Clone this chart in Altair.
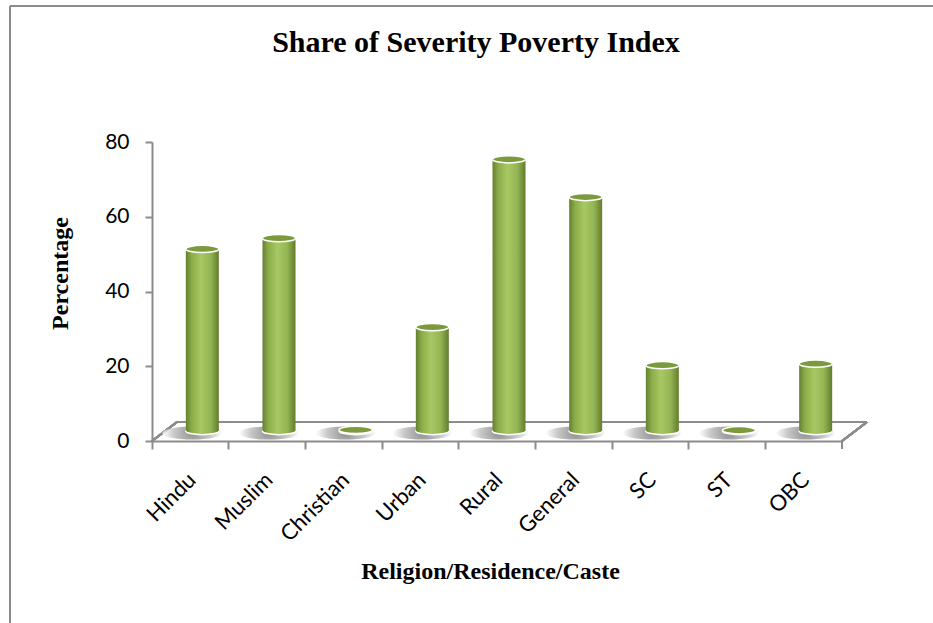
import altair as alt
import pandas as pd

title_text = "Share of Severity Poverty Index"
categories = ["Hindu", "Muslim", "Christian", "Urban", "Rural", "General", "SC", "ST", "OBC"]
values = [48.7, 51.6, 0.3, 27.8, 72.7, 62.6, 17.6, 0.2, 18.0]
y_ticks = [0, 20, 40, 60, 80]

df = pd.DataFrame({"category": categories, "value": values})
title_df = pd.DataFrame({"t": [title_text]})

W, H = 690, 299
PAD_L, PAD_T = 152, 142
DEPTH_X, DEPTH_Y = 25, 19
BASE = -10      # bars stand in the middle of the 3-D floor
SHIFT = 12
GREY = "#8C8C8C"
SERIF = "Liberation Serif"
SANS = "Lato"

ELLIPSE = "M -1 0 A 1 0.22 0 1 0 1 0 A 1 0.22 0 1 0 -1 0 Z"

side = alt.Gradient(
    gradient="linear", x1=0, x2=1, y1=0, y2=0,
    stops=[
        alt.GradientStop(offset=0, color="#66802F"),
        alt.GradientStop(offset=0.18, color="#8BAD4A"),
        alt.GradientStop(offset=0.45, color="#A7C862"),
        alt.GradientStop(offset=0.75, color="#94B553"),
        alt.GradientStop(offset=1, color="#637C2E"),
    ],
)
shadow_fill = alt.Gradient(
    gradient="radial",
    stops=[
        alt.GradientStop(offset=0, color="#6E6E6E"),
        alt.GradientStop(offset=0.6, color="#B5B5B5"),
        alt.GradientStop(offset=1, color="#FFFFFF"),
    ],
)

x_enc = alt.X(
    "category:N", sort=categories,
    scale=alt.Scale(paddingInner=0, paddingOuter=0),
    axis=alt.Axis(
        title="Religion/Residence/Caste", bandPosition=0, labelOffset=2,
        labelAngle=-45, labelAlign="right", labelBaseline="middle",
        labelFont=SANS, labelFontSize=22, labelColor="black", labelPadding=27,
        tickColor=GREY, tickWidth=2, tickSize=8,
        domainColor=GREY, domainWidth=2,
        titleFont=SERIF, titleFontSize=24, titleFontWeight="bold", titleColor="black",
        titleX=490 - PAD_L, titleY=137, titleAlign="center", titleBaseline="alphabetic",
    ),
)
y_enc = alt.Y(
    "value:Q",
    scale=alt.Scale(domain=[0, 80]),
    axis=alt.Axis(
        title="Percentage", values=y_ticks, grid=False,
        labelFont=SANS, labelFontSize=21, labelColor="black", labelPadding=16,
        tickColor=GREY, tickWidth=2, tickSize=7,
        domainColor=GREY, domainWidth=2,
        titleFont=SERIF, titleFontSize=24, titleFontWeight="bold", titleColor="black",
        titleX=-92, titleY=273 - PAD_T, titleAngle=-90, titleAlign="center", titleBaseline="middle",
    ),
)

base = alt.Chart(df)

# chart title
title = alt.Chart(title_df).mark_text(
    font=SERIF, fontSize=30, fontWeight="bold", color="black",
    align="center", baseline="alphabetic",
).encode(text="t:N", x=alt.value(476 - PAD_L), y=alt.value(52 - PAD_T))

# chart frame
frame = alt.Chart(df).mark_rule(color=GREY, strokeWidth=2).encode(
    x=alt.value(10 - PAD_L), x2=alt.value(10 - PAD_L),
    y=alt.value(6 - PAD_T), y2=alt.value(640 - PAD_T),
) + alt.Chart(df).mark_rule(color=GREY, strokeWidth=2).encode(
    x=alt.value(10 - PAD_L), x2=alt.value(950 - PAD_L),
    y=alt.value(6 - PAD_T), y2=alt.value(6 - PAD_T),
)

# 3-D floor outline
floor_back = alt.Chart(df).mark_rule(color=GREY, strokeWidth=2).encode(
    x=alt.value(DEPTH_X), x2=alt.value(W + DEPTH_X), y=alt.value(H - DEPTH_Y), y2=alt.value(H - DEPTH_Y)
)
floor_left = alt.Chart(df).mark_rule(color=GREY, strokeWidth=2).encode(
    x=alt.value(0), x2=alt.value(DEPTH_X), y=alt.value(H), y2=alt.value(H - DEPTH_Y)
)
floor_right = alt.Chart(df).mark_rule(color=GREY, strokeWidth=2).encode(
    x=alt.value(W), x2=alt.value(W + DEPTH_X), y=alt.value(H), y2=alt.value(H - DEPTH_Y)
)
end_tick = alt.Chart(df).mark_rule(color=GREY, strokeWidth=2).encode(
    x=alt.value(W), x2=alt.value(W), y=alt.value(H), y2=alt.value(H + 8)
)

shadow = base.mark_point(
    shape=ELLIPSE, size=3600, fill=shadow_fill, filled=True, strokeWidth=0,
    opacity=0.75, xOffset=SHIFT - 10, yOffset=BASE + 2,
).encode(x=x_enc, y=alt.datum(0))

bottom = base.mark_point(
    shape=ELLIPSE, size=1089, fill=side, filled=True, stroke="white", strokeWidth=1.5,
    opacity=1, xOffset=SHIFT, yOffset=BASE,
).encode(x=x_enc, y=alt.datum(0))

bars = base.mark_bar(
    size=33, fill=side, xOffset=SHIFT, yOffset=BASE, y2Offset=BASE,
).encode(x=x_enc, y=y_enc)

top = base.mark_point(
    shape=ELLIPSE, size=1089, fill="#7B9A3C", filled=True, stroke="white", strokeWidth=1.5,
    opacity=1, xOffset=SHIFT, yOffset=BASE,
).encode(x=x_enc, y="value:Q")

chart = alt.layer(
    frame, title, floor_back, floor_left, floor_right, end_tick, shadow, bottom, bars, top
).properties(
    width=W, height=H,
    background="white",
    padding={"left": PAD_L, "top": PAD_T, "right": 933 - PAD_L - W, "bottom": 623 - PAD_T - H},
    autosize=alt.AutoSizeParams(type="none"),
).configure_view(stroke=None)

chart.save("out.html", embed_options={"renderer": "svg", "actions": False})
